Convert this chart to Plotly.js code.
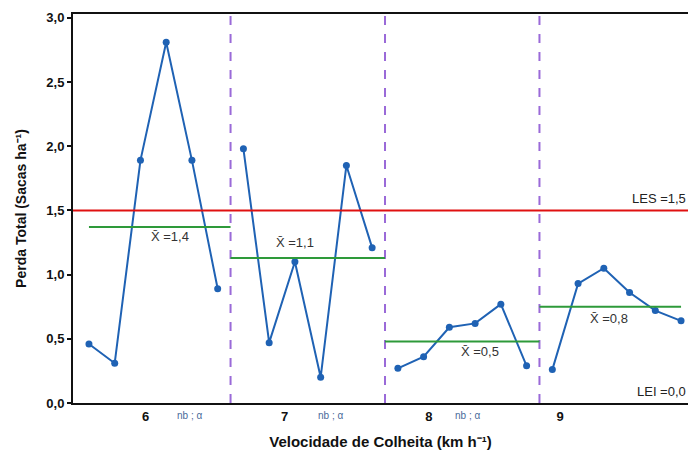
<!DOCTYPE html>
<html><head><meta charset="utf-8">
<script src="https://cdn.plot.ly/plotly-3.0.1.min.js"></script>
<style>html,body{margin:0;padding:0;background:#fff}</style>
</head><body>
<div id="chart" style="width:688px;height:454px"></div>
<script>
// Data
const speeds = ["6", "7", "8", "9"];
const v6 = [0.46, 0.31, 1.89, 2.81, 1.89, 0.89];
const v7 = [1.98, 0.47, 1.10, 0.20, 1.85, 1.21];
const v8 = [0.27, 0.36, 0.59, 0.62, 0.77, 0.29];
const v9 = [0.26, 0.93, 1.05, 0.86, 0.72, 0.64];
const groupMeans = [1.37, 1.13, 0.48, 0.75];
const meanLabels = ["1,4", "1,1", "0,5", "0,8"];
const LES = 1.5;
const LEI = 0.0;
const yTickVals = [0, 0.5, 1.0, 1.5, 2.0, 2.5, 3.0];
const yTickText = ["0,0", "0,5", "1,0", "1,5", "2,0", "2,5", "3,0"];
const subLabel = "nb ; α";

const groups = [v6, v7, v8, v9];
const n = 6;
const font = "Liberation Sans Narrow, Arial Narrow, Liberation Sans, sans-serif";
const blue = "#1f62b4";
const traces = [];
groups.forEach((g, k) => {
  traces.push({
    x: g.map((_, i) => k * n + i), y: g, type: "scatter", mode: "lines+markers",
    line: {color: blue, width: 2}, marker: {color: blue, size: 7, symbol: "circle"},
    showlegend: false, hoverinfo: "skip"
  });
});
const shapes = [];
// LES line
shapes.push({type: "line", xref: "paper", x0: 0, x1: 1, yref: "y", y0: LES, y1: LES, line: {color: "#e01010", width: 2}});
// dividers
for (let k = 1; k < 4; k++) {
  shapes.push({type: "line", xref: "x", x0: k * n - 0.5, x1: k * n - 0.5, yref: "paper", y0: 0, y1: 1,
    line: {color: "#9a6ad8", width: 2, dash: "dash"}});
}
// mean lines
groupMeans.forEach((m, k) => {
  const x0 = k === 0 ? 0 : k * n - 0.5;
  const x1 = k === 3 ? k * n + n - 1 : k * n + n - 0.5;
  shapes.push({type: "line", xref: "x", yref: "y", x0: x0, x1: x1, y0: m, y1: m, line: {color: "#2e9a3a", width: 2}});
});
const annPos = [[3.15, 1.30], [8.0, 1.25], [15.2, 0.40], [20.2, 0.66]];
const annotations = [];
meanLabels.forEach((t, k) => {
  annotations.push({x: annPos[k][0], y: annPos[k][1], xref: "x", yref: "y", text: "X\u0304 =" + t,
    showarrow: false, font: {family: font, size: 13, color: "#333"}});
});
annotations.push({x: 1, y: LES, xref: "paper", yref: "y", xanchor: "right", yanchor: "bottom", yshift: 2,
  text: "LES =1,5", showarrow: false, font: {family: font, size: 13, color: "#222"}});
annotations.push({x: 1, y: LEI, xref: "paper", yref: "y", xanchor: "right", yanchor: "bottom", yshift: 2,
  text: "LEI =0,0", showarrow: false, font: {family: font, size: 13, color: "#222"}});
[3.9, 9.4, 14.7].forEach(x => {
  annotations.push({x: x, y: 0, xref: "x", yref: "y", yanchor: "top", yshift: -5, text: subLabel,
    showarrow: false, font: {family: font, size: 10, color: "#4a6a9a"}});
});

const layout = {
  width: 688, height: 454,
  margin: {l: 73, r: 0, t: 14, b: 51},
  paper_bgcolor: "#fff", plot_bgcolor: "#fff",
  showlegend: false,
  xaxis: {
    range: [-0.62, 23.27], showgrid: false, zeroline: false,
    showline: true, linecolor: "#111", linewidth: 2, mirror: true,
    tickvals: [2.2, 7.6, 13.2, 18.3], ticktext: speeds, ticks: "",
    tickfont: {family: font, size: 13, color: "#111", weight: "bold"},
    title: {text: "Velocidade de Colheita (km h\u207B\u00B9)", font: {family: font, size: 15, color: "#111", weight: "bold"}, standoff: 14}
  },
  yaxis: {
    range: [0, 3.03], showgrid: false, zeroline: false,
    showline: true, linecolor: "#111", linewidth: 2,
    tickvals: yTickVals, ticktext: yTickText, ticks: "outside", ticklen: 4, tickwidth: 2, tickcolor: "#111",
    tickfont: {family: font, size: 13, color: "#111", weight: "bold"},
    title: {text: "Perda Total (Sacas ha\u207B\u00B9)", font: {family: font, size: 14, color: "#111", weight: "bold"}, standoff: 16}
  },
  shapes: shapes, annotations: annotations
};
Plotly.newPlot("chart", traces, layout, {displayModeBar: false, staticPlot: true});
</script>
</body></html>
